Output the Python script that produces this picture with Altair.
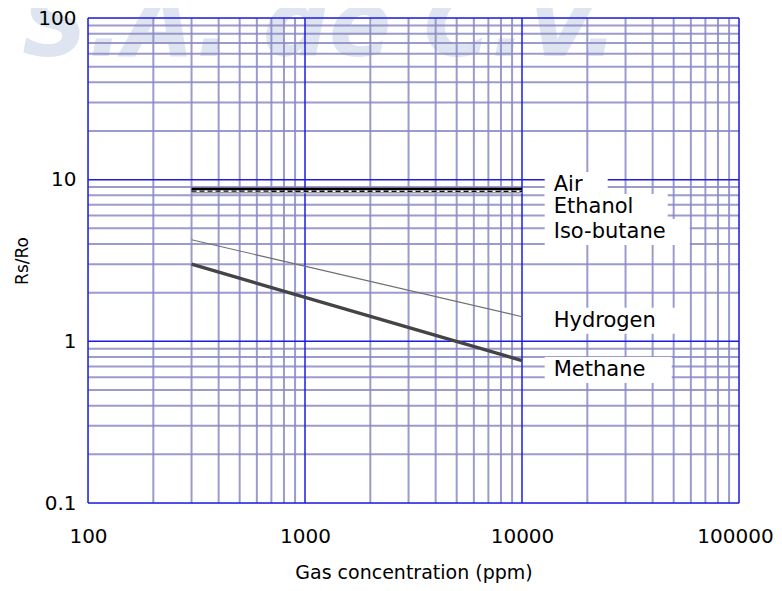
import altair as alt
import pandas as pd

# ---- data ----
conc = [300, 10000]
air = [8.75, 8.75]
ethanol = [8.5, 8.45]
isobutane = [8.3, 8.3]
hydrogen = [4.25, 1.42]
methane = [3.0, 0.76]

series_names = ["Air", "Ethanol", "Iso-butane", "Hydrogen", "Methane"]
series_vals = [air, ethanol, isobutane, hydrogen, methane]

label_names = ["Air", "Ethanol", "Iso-butane", "Hydrogen", "Methane"]
label_x = [14000, 14000, 14000, 14000, 14000]
label_y = [9.27, 6.78, 4.74, 1.34, 0.665]

x_minor = [v * m for v in [100, 1000, 10000] for m in range(2, 10)]
x_major = [100, 1000, 10000, 100000]
y_minor = [v * m for v in [0.1, 1, 10] for m in range(2, 10)]
y_major = [0.1, 1, 10, 100]

# ---- layout / style ----
W, H = 651, 485
PX_X = W / 3.0   # pixels per decade
PX_Y = H / 3.0
FONT = "DejaVu Sans"
MAJOR = "#1c1ce4"
MINOR = "#8a8ac4"
styles = {
    "Air": dict(color="#000000", strokeWidth=2.6),
    "Ethanol": dict(color="#111111", strokeWidth=1.4, strokeDash=[5, 3]),
    "Iso-butane": dict(color="#9a9a9a", strokeWidth=1.5),
    "Hydrogen": dict(color="#707070", strokeWidth=1.2),
    "Methane": dict(color="#444444", strokeWidth=3.4),
}

lab_df = pd.DataFrame({"name": label_names, "x": label_x, "y": label_y})
text_px = {"Air": 44, "Ethanol": 104, "Iso-butane": 126, "Hydrogen": 116, "Methane": 108}
lab_df["bx"] = lab_df["x"] * 10 ** (-9 / PX_X)
lab_df["bx2"] = lab_df.apply(lambda r: r["x"] * 10 ** ((text_px[r["name"]] + 10) / PX_X), axis=1)
lab_df["by"] = lab_df["y"] * 10 ** (13 / PX_Y)
lab_df["by2"] = lab_df["y"] * 10 ** (-13 / PX_Y)

xs = alt.Scale(type="log", domain=[100, 100000], nice=False)
ys = alt.Scale(type="log", domain=[0.1, 100], nice=False)

x_axis = alt.Axis(values=x_major, format="d", grid=False, ticks=False, domain=False, zindex=1,
                  labelFont=FONT, labelFontSize=20, labelColor="black", labelPadding=23,
                  labelOffset={"condition": {"test": "datum.value >= 50000", "value": -4}, "value": 0},
                  title="Gas concentration (ppm)", titleFont=FONT, titleFontSize=19,
                  titleFontWeight="normal", titleColor="black", titlePadding=17,
                  labelFlush=False)
y_axis = alt.Axis(values=y_major, labelExpr="datum.value < 1 ? '0.1' : format(datum.value, 'd')",
                  grid=False, ticks=False, domain=False, zindex=1,
                  labelFont=FONT, labelFontSize=20, labelColor="black", labelPadding=12,
                  title="Rs/Ro", titleFont=FONT, titleFontSize=17, titleFontWeight="normal",
                  titleColor="black", titlePadding=6, labelFlush=False)


def X(f):
    return alt.X(f, type="quantitative", scale=xs, axis=x_axis)


def Y(f):
    return alt.Y(f, type="quantitative", scale=ys, axis=y_axis)


watermark = alt.Chart(pd.DataFrame({"t": ["S.A. de C.V."]})).mark_text(
    font=FONT, fontSize=92, fontWeight="bold", fontStyle="italic", color="#dfe4f1",
    align="left", baseline="alphabetic"
).encode(x=alt.value(-66), y=alt.value(38), text="t:N")

xmin = alt.Chart(pd.DataFrame({"v": x_minor})).mark_rule(color=MINOR, strokeWidth=2, opacity=0.85).encode(x=X("v"))
ymin = alt.Chart(pd.DataFrame({"v": y_minor})).mark_rule(color=MINOR, strokeWidth=2, opacity=0.85).encode(y=Y("v"))
xmaj = alt.Chart(pd.DataFrame({"v": x_major})).mark_rule(color=MAJOR, strokeWidth=1.5).encode(x=X("v"))
ymaj = alt.Chart(pd.DataFrame({"v": y_major})).mark_rule(color=MAJOR, strokeWidth=1.5).encode(y=Y("v"))

boxes = alt.Chart(lab_df).mark_rect(fill="white").encode(
    x=X("bx"), x2="bx2", y=Y("by"), y2="by2")

line_layers = []
for n, vals in zip(series_names, series_vals):
    df = pd.DataFrame({"conc": conc, "rs": vals})
    line_layers.append(alt.Chart(df).mark_line(**styles[n]).encode(x=X("conc"), y=Y("rs")))

labels = alt.Chart(lab_df).mark_text(
    font=FONT, fontSize=21, align="left", baseline="middle", color="black"
).encode(x=X("x"), y=Y("y"), text="name:N")

chart = alt.layer(watermark, xmin, ymin, xmaj, ymaj, boxes, *line_layers, labels).properties(
    width=W, height=H,
    padding={"left": 80, "top": 10, "right": 35, "bottom": 80},
    autosize=alt.AutoSizeParams(type="none"),
).configure_view(stroke=MAJOR, strokeWidth=1.5).configure(background="white")

chart.save("out.html", embed_options={"renderer": "svg", "actions": False})
